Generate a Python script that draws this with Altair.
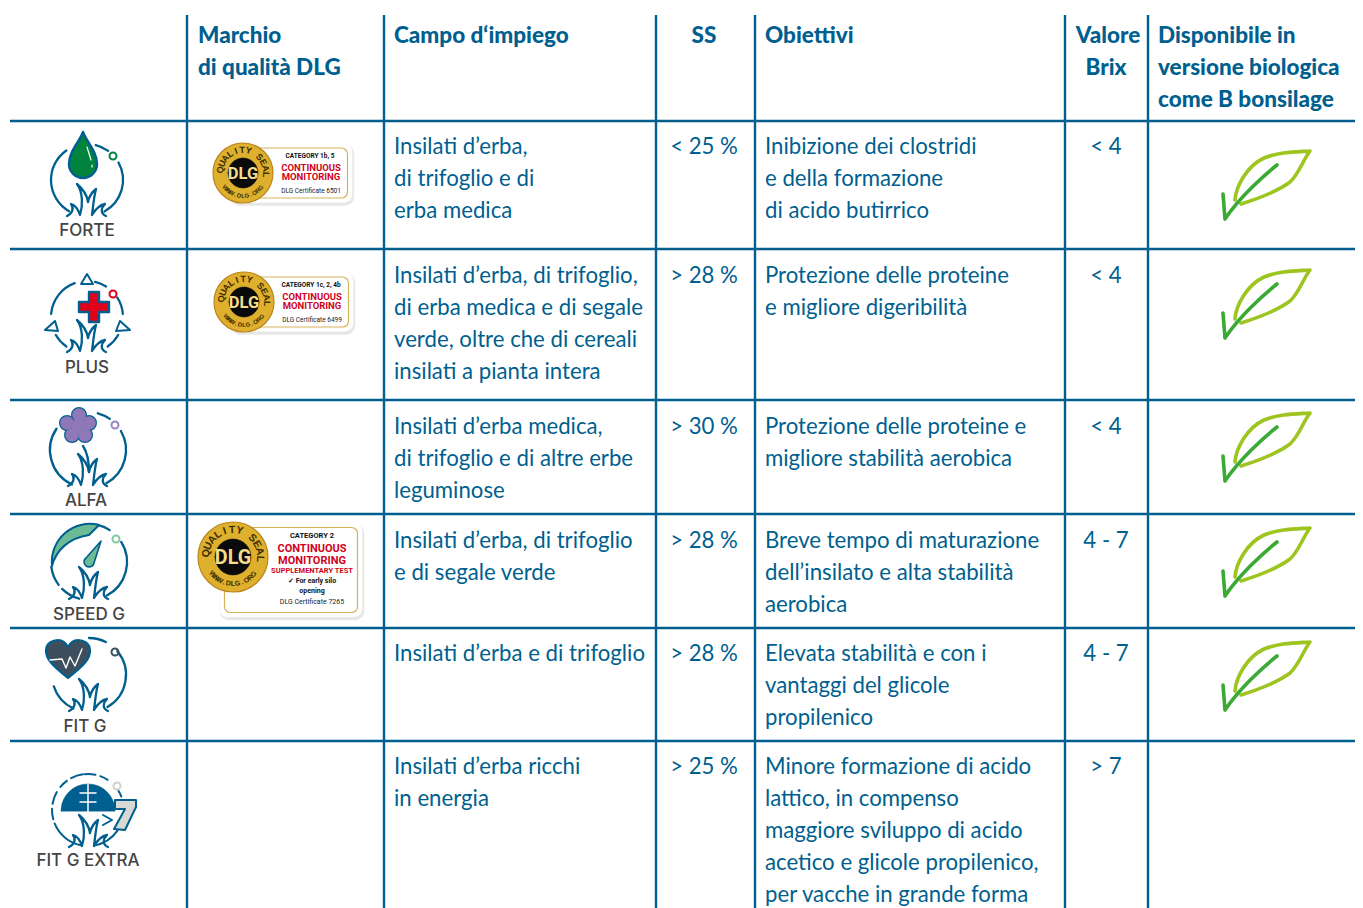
import math
import altair as alt
import pandas as pd

# ---- table content ----
header_lines = [
    ("Marchio", 1, "l"), ("di qualità DLG", 1, "l"),
    ("Campo d‘impiego", 2, "l"), ("SS", 3, "c"), ("Obiettivi", 4, "l"),
    ("Valore", 5, "c"), ("Brix", 5, "c"),
    ("Disponibile in", 6, "l"), ("versione biologica", 6, "l"), ("come B bonsilage", 6, "l"),
]
products = ["FORTE", "PLUS", "ALFA", "SPEED G", "FIT G", "FIT G EXTRA"]
campo = [
    ["Insilati d’erba,", "di trifoglio e di", "erba medica"],
    ["Insilati d’erba, di trifoglio,", "di erba medica e di segale", "verde, oltre che di cereali", "insilati a pianta intera"],
    ["Insilati d’erba medica,", "di trifoglio e di altre erbe", "leguminose"],
    ["Insilati d’erba, di trifoglio", "e di segale verde"],
    ["Insilati d’erba e di trifoglio"],
    ["Insilati d’erba ricchi", "in energia"],
]
ss = ["< 25 %", "> 28 %", "> 30 %", "> 28 %", "> 28 %", "> 25 %"]
obiettivi = [
    ["Inibizione dei clostridi", "e della formazione", "di acido butirrico"],
    ["Protezione delle proteine", "e migliore digeribilità"],
    ["Protezione delle proteine e", "migliore stabilità aerobica"],
    ["Breve tempo di maturazione", "dell’insilato e alta stabilità", "aerobica"],
    ["Elevata stabilità e con i", "vantaggi del glicole", "propilenico"],
    ["Minore formazione di acido", "lattico, in compenso", "maggiore sviluppo di acido", "acetico e glicole propilenico,", "per vacche in grande forma"],
]
brix = ["< 4", "< 4", "< 4", "4 - 7", "4 - 7", "> 7"]

# ---- layout (page pixels) ----
BLUE = "#005f8f"
col_lines = [187, 384, 656, 755, 1065, 1148]
row_lines = [121, 249, 400, 514, 628, 741]
row_text = [147, 276, 427, 541, 654, 767]
LH = 32
col_left = {1: 198, 2: 394, 4: 765, 6: 1158}
col_center = {3: 704, 5: 1106}
label_pos = [(87, 231), (87, 368), (86, 501), (89, 615), (85, 727), (88, 861)]
leaf_dy = [0, 119, 262, 377, 491]
FONT = "Lato"
BODY = 22.2
HEAD = 22.5
ICON_FONT = "Inter"

texts = []
def T(x, y, s, size=BODY, color=BLUE, font=FONT, weight="normal", align="left", angle=0):
    texts.append(dict(x=x, y=y, t=s, size=size, color=color, font=font,
                      weight=weight, align=align, angle=angle % 360))

hy = {}
for s, c, a in header_lines:
    n = hy.get(c, 0)
    hy[c] = n + 1
    y = 36 + n * LH
    if a == "l":
        T(col_left[c], y, s, size=HEAD, weight="900")
    else:
        T(col_center[c] + (2 if s == "Valore" else 0), y, s, size=HEAD, weight="900", align="center")

for i in range(6):
    y0 = row_text[i]
    for j, s in enumerate(campo[i]):
        T(col_left[2], y0 + j * LH, s)
    for j, s in enumerate(obiettivi[i]):
        T(col_left[4], y0 + j * LH, s)
    T(col_center[3], y0, ss[i], align="center")
    T(col_center[5], y0, brix[i], align="center")
    lx, ly = label_pos[i]
    T(lx, ly, products[i], size=17, color="#444444", font=ICON_FONT, weight="500", align="center")

# ---- glyph parts ----
parts = []
def P(x, y, path, fill="transparent", stroke=BLUE, sw=2.3):
    parts.append(dict(x=x, y=y, path=path, fill=fill, stroke=stroke, sw=sw))

def pt(r, th):
    a = math.radians(th)
    return r * math.sin(a), -r * math.cos(a)

def arc(r, t1, t2):
    x1, y1 = pt(r, t1)
    x2, y2 = pt(r, t2)
    large = 1 if abs(t2 - t1) > 180 else 0
    sweep = 1 if t2 > t1 else 0
    return f"M{x1:.2f},{y1:.2f} A{r},{r} 0 {large} {sweep} {x2:.2f},{y2:.2f}"

def circle(r, cx=0, cy=0):
    return f"M{cx-r},{cy} A{r},{r} 0 1 1 {cx+r},{cy} A{r},{r} 0 1 1 {cx-r},{cy} Z"

def rrect(w, h, r):
    a, b = w / 2, h / 2
    return (f"M{-a+r},{-b} L{a-r},{-b} A{r},{r} 0 0 1 {a},{-b+r} L{a},{b-r} "
            f"A{r},{r} 0 0 1 {a-r},{b} L{-a+r},{b} A{r},{r} 0 0 1 {-a},{b-r} "
            f"L{-a},{-b+r} A{r},{r} 0 0 1 {-a+r},{-b} Z")

GRASS = ("M-20,0 C-14,-3 -13,-8 -16,-12 C-12,-11 -9,-7 -7,-1 C-4,-10 -4,-24 -10,-32 "
         "C-4,-27 0,-21 1,-14 C2,-19 5,-24 9,-27 C7,-20 6,-9 5,-1 "
         "C8,-6 13,-11 18,-12 C14,-8 13,-3 19,0")

# FORTE
c = (87, 180)
for a, b in [(-35, -150), (14, 36), (61, 151)]:
    P(*c, arc(36, a, b))
P(87, 216, GRASS)
P(83, 163, "M0,-31 C3,-22 14,-12 14,1 A14,14 0 0 1 -14,1 C-14,-12 -3,-22 0,-31 Z", fill="#00843d", sw=2.4)
P(83, 163, "M4,-16 L8,-3 M9,2 L9,4", stroke="#ffffff", sw=1.2)
P(113, 156, circle(3.5), stroke="#00843d", sw=2)

# PLUS
c = (87, 317)
for a, b in [(-85, -20), (13, 32), (57, 85), (-120, -145), (120, 145)]:
    P(*c, arc(36, a, b))
for tri in ["M0,-43 L-6,-33 L6,-33 Z", "M-42,13 L-32,4 L-29,14 Z", "M43,13 L33,4 L29,14 Z"]:
    P(*c, tri, sw=2)
P(87, 352, GRASS)
P(94, 307, "M-5,-15 L5,-15 L5,-5 L15,-5 L15,5 L5,5 L5,15 L-5,15 L-5,5 L-15,5 L-15,-5 L-5,-5 Z", fill="#e2001a", sw=2.4)
P(113, 294, circle(3.5), stroke="#e2001a", sw=2)

# ALFA
c = (88, 450)
for a, b in [(-56, -155), (15, 35), (60, 151)]:
    P(*c, arc(38, a, b))
P(88, 486, GRASS)
P(88, 486, "M-5,-40 C-1,-34 1,-26 1,-14")
fl = (78, 426)
pet = [(1, -11), (11, -3), (7, 9), (-6, 9), (-11, -3)]
for dx, dy in pet:
    P(*fl, circle(6.8, dx, dy), fill="#8e78b8", sw=2.4)
for dx, dy in pet:
    P(*fl, circle(6.7, dx, dy), fill="#8e78b8", stroke="#8e78b8", sw=0.1)
P(*fl, circle(7), fill="#8e78b8", stroke="#8e78b8", sw=0.1)
P(115, 425, circle(3.5), stroke="#9a84c4", sw=2)

# SPEED G
c = (89, 562)
for a, b in [(-97, -127), (-135, -165), (13, 33), (58, 152)]:
    P(*c, arc(38, a, b))
P(*c, "M10,-37 A38,38 0 0 0 -37,4 C-33,-12 -20,-24 0,-27 Z", fill="#6dbb94", sw=2)
P(*c, "M12,-21 L5,1 A5,5 0 1 1 -3,-4 Z", fill="#6dbb94", sw=1.6)
P(89, 599, GRASS)
P(116, 539, circle(3.5), stroke="#80c8a0", sw=2)

# FIT G
c = (89, 675)
for a, b in [(0, 27), (50, 150), (-108, -155)]:
    P(*c, arc(37, a, b))
P(89, 711, GRASS)
P(68, 658, "M0,20 C-8,13 -22,4 -22,-7 C-22,-15 -15,-18 -10,-18 C-5,-18 -2,-15 0,-11 "
           "C2,-15 5,-18 10,-18 C15,-18 22,-15 22,-7 C22,4 8,13 0,20 Z", fill="#3d4f5c", sw=2.2)
P(68, 658, "M-18,2 L-6,1 L-2,10 L2,-1 L7,8 L14,-9", stroke="#ffffff", sw=1.4)
P(115, 652, circle(3.5), stroke="#3d4f5c", sw=2)

# FIT G EXTRA
c = (88, 810)
for a, b in [(-8, -28), (-36, -50), (-60, -80), (-88, -105), (-112, -170),
             (-5, 12), (20, 33), (58, 68), (125, 170)]:
    P(*c, arc(36, a, b), sw=2)
P(89, 847, GRASS)
P(88, 811, "M-27,0 A27,27 0 0 1 27,0 Z", fill=BLUE, stroke=BLUE, sw=0.5)
P(88, 811, "M0,-27 L0,1 M-8,-18 L8,-18 M-8,-9 L8,-9", stroke="#ffffff", sw=1.5)
P(125, 815, "M-10,-15 L11,-15 L11,-8 L0,15 L-11,14 L0,-6 L-10,-6 Z", fill="#d8d8d4", sw=2)
P(125, 815, "M-22,0 L-13,5 L-22,10", sw=2)
P(117, 786, circle(3.5), stroke="#d0d0cc", sw=2)

# organic leaves
LEAF = "M-30,14 C-29,0 -18,-20 -1,-28 C14,-34 30,-34 45,-35 C38,-26 34,-12 25,-4 C13,5 -8,13 -24,18"
STEM = "M12,-21 C-2,-10 -26,12 -40,33 L-42,8"
for dy in leaf_dy:
    P(1265, 186 + dy, LEAF, stroke="#9dc41f", sw=3.6)
    P(1265, 186 + dy, STEM, stroke="#3aaa35", sw=3.6)

# DLG seals
def arc_text(cx, cy, r, s, mid, step, size, bottom=False):
    n = len(s)
    for i, ch in enumerate(s):
        th = mid + (i - (n - 1) / 2) * step * (-1 if bottom else 1)
        x, y = pt(r, th)
        T(cx + x, cy + y, ch, size=size, color="#3a2c00", font="Liberation Sans", weight="bold",
          align="center", angle=th + (180 if bottom else 0))

def seal(cx, cy, R, rect_c, w, h, lines, inner_r):
    P(rect_c[0] + 1, rect_c[1] + 2, rrect(w, h, 8), fill="#dddddd", stroke="#e8e8e8", sw=2.5)
    P(*rect_c, rrect(w, h, 8), fill="#ffffff", stroke="#ffffff", sw=0.5)
    P(*rect_c, rrect(w - 9, h - 9, 6), stroke="#d8b25a", sw=1.2)
    P(cx, cy, circle(R), fill="#dfb02e", stroke="#b8861c", sw=1.2)
    P(cx, cy, circle(inner_r), fill="#0a0a0a", stroke="#0a0a0a", sw=0.5)
    T(cx, cy + 0.5, "DLG", size=inner_r * 1.1, color="#f3dc8c", font="Roboto", weight="bold", align="center")
    arc_text(cx, cy, (R + inner_r) / 2 + 0.5, "QUALITY SEAL", 6, 16, R * 0.3)
    arc_text(cx, cy, (R + inner_r) / 2 + 0.5, "WWW.DLG.ORG", 180, 10, R * 0.2, bottom=True)
    for s, x, y, sz, col, b in lines:
        T(x, y, s, size=sz, color=col, font="Roboto", weight="bold" if b else "normal", align="center")

RED = "#d0021b"
seal(243, 173, 30, (291, 173), 122, 59, [
    ("CATEGORY 1b, 5", 310, 156, 6.5, "#111111", True),
    ("CONTINUOUS", 311, 168, 9.5, RED, True),
    ("MONITORING", 311, 177, 9.5, RED, True),
    ("DLG Certificate 6501", 311, 191, 6.5, "#222222", False)], 15)
seal(244, 302, 30, (292, 302), 122, 59, [
    ("CATEGORY 1c, 2, 4b", 311, 285, 6.5, "#111111", True),
    ("CONTINUOUS", 312, 297, 9.5, RED, True),
    ("MONITORING", 312, 306, 9.5, RED, True),
    ("DLG Certificate 6499", 312, 320, 6.5, "#222222", False)], 15)
seal(233, 557, 35, (291, 570), 142, 94, [
    ("CATEGORY 2", 312, 536, 7.5, "#111111", True),
    ("CONTINUOUS", 312, 549, 11, RED, True),
    ("MONITORING", 312, 561, 11, RED, True),
    ("SUPPLEMENTARY TEST", 312, 571, 7.5, RED, True),
    ("✓ For early silo", 312, 581, 7, "#111111", True),
    ("opening", 312, 591, 7, "#111111", True),
    ("DLG Certificate 7265", 312, 602, 7, "#222222", False)], 18)

# ---- scales ----
W, H = 1347, 900
xs = alt.Scale(domain=[8, 8 + W], range=[0, W], nice=False, zero=False)
ys = alt.Scale(domain=[8, 8 + H], range=[0, H], nice=False, zero=False)
X = lambda f="x": alt.X(f"{f}:Q", scale=xs, axis=None)
Y = lambda f="y": alt.Y(f"{f}:Q", scale=ys, axis=None)

rules_h = pd.DataFrame({"y": row_lines, "x": [10] * 6, "x2": [8 + W] * 6})
rules_v = pd.DataFrame({"x": col_lines, "y": [15] * 6, "y2": [8 + H] * 6})
layers = [
    alt.Chart(rules_v).mark_rule(color=BLUE, strokeWidth=2.4).encode(x=X(), y=Y(), y2="y2:Q"),
    alt.Chart(rules_h).mark_rule(color=BLUE, strokeWidth=2.4).encode(x=X(), x2="x2:Q", y=Y()),
    alt.Chart(pd.DataFrame(parts)).mark_point(opacity=1, size=4, filled=True, strokeCap="round", strokeJoin="round").encode(
        x=X(), y=Y(),
        shape=alt.Shape("path:N", scale=None, legend=None),
        fill=alt.Fill("fill:N", scale=None, legend=None),
        stroke=alt.Stroke("stroke:N", scale=None, legend=None),
        strokeWidth=alt.StrokeWidth("sw:Q", scale=None, legend=None),
        order=alt.Order("i:Q"),
    ).transform_window(i="row_number()"),
]
df = pd.DataFrame(texts)
for (font, weight, align), g in df.groupby(["font", "weight", "align"]):
    fw = int(weight) if weight.isdigit() else weight
    layers.append(
        alt.Chart(g).mark_text(font=font, fontWeight=fw, align=align, baseline="middle").encode(
            x=X(), y=Y(), text="t:N",
            size=alt.Size("size:Q", scale=None, legend=None),
            color=alt.Color("color:N", scale=None, legend=None),
            angle=alt.Angle("angle:Q", scale=None, legend=None),
        )
    )

chart = alt.layer(*layers).properties(
    width=W, height=H, padding=0, background="#ffffff",
    autosize=alt.AutoSizeParams(type="none"),
).configure_view(stroke=None)
chart.save("out.html", embed_options={"renderer": "svg", "actions": False})
